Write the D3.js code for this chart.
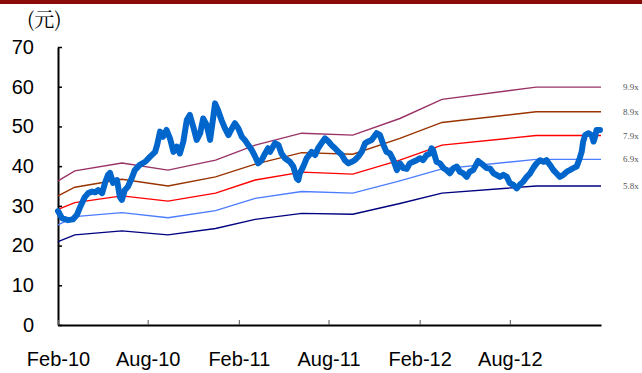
<!DOCTYPE html>
<html>
<head>
<meta charset="utf-8">
<script src="https://cdn.jsdelivr.net/npm/d3@7"></script>
<style>
  body { margin: 0; background: #fff; }
  svg { display: block; }
</style>
</head>
<body>
<svg id="chart" width="642" height="373"></svg>
<script>
// stock price (yuan)
var priceDates = ["2010-02-01","2010-02-09","2010-02-21","2010-03-03","2010-03-11","2010-03-17","2010-03-27","2010-04-03","2010-04-11","2010-04-17",
  "2010-04-23","2010-05-01","2010-05-07","2010-05-13","2010-05-17","2010-05-23","2010-05-31","2010-06-06","2010-06-10","2010-06-16",
  "2010-06-22","2010-06-30","2010-07-06","2010-07-16","2010-07-27","2010-08-06","2010-08-16","2010-08-20","2010-08-26","2010-09-01",
  "2010-09-08","2010-09-15","2010-09-22","2010-09-29","2010-10-05","2010-10-12","2010-10-19","2010-10-25","2010-11-01","2010-11-08",
  "2010-11-15","2010-11-21","2010-11-28","2010-12-05","2010-12-11","2010-12-15","2010-12-21","2010-12-28","2011-01-04","2011-01-11",
  "2011-01-18","2011-01-24","2011-01-31","2011-02-07","2011-02-13","2011-02-20","2011-02-27","2011-03-06","2011-03-12","2011-03-19",
  "2011-03-26","2011-04-01","2011-04-05","2011-04-15","2011-04-22","2011-04-28","2011-05-05","2011-05-15","2011-05-22","2011-05-29",
  "2011-06-01","2011-06-04","2011-06-11","2011-06-18","2011-06-28","2011-07-05","2011-07-11","2011-07-18","2011-07-25","2011-08-01",
  "2011-08-07","2011-08-14","2011-08-21","2011-08-28","2011-09-03","2011-09-10","2011-09-17","2011-09-23","2011-09-30","2011-10-07",
  "2011-10-14","2011-10-20","2011-10-27","2011-11-06","2011-11-13","2011-11-20","2011-11-26","2011-12-03","2011-12-10","2011-12-17",
  "2011-12-23","2011-12-30","2012-01-06","2012-01-12","2012-01-19","2012-01-26","2012-02-02","2012-02-08","2012-02-15","2012-02-22",
  "2012-02-25","2012-02-28","2012-03-06","2012-03-13","2012-03-20","2012-03-26","2012-04-02","2012-04-09","2012-04-16","2012-04-22",
  "2012-04-29","2012-05-06","2012-05-12","2012-05-19","2012-05-29","2012-06-08","2012-06-15","2012-06-22","2012-06-29","2012-07-05",
  "2012-07-12","2012-07-19","2012-07-26","2012-08-01","2012-08-08","2012-08-15","2012-08-21","2012-08-28","2012-09-04","2012-09-11",
  "2012-09-17","2012-09-24","2012-10-01","2012-10-08","2012-10-14","2012-10-21","2012-10-28","2012-11-03","2012-11-10","2012-11-17",
  "2012-11-24","2012-11-30","2012-12-07","2012-12-14","2012-12-20","2012-12-24","2012-12-27","2012-12-31","2013-01-07","2013-01-13",
  "2013-01-17","2013-01-20","2013-01-23","2013-01-30"];
var priceValues = [28.7,26.9,26.4,26.6,27.7,29.5,32.2,33.2,33.6,33.4,
  34.0,33.2,35.8,37.8,38.3,35.8,36.5,32.2,31.5,34.0,
  34.8,37.0,39.0,40.3,41.1,42.4,43.6,45.3,48.7,47.4,
  49.1,47.0,43.6,44.9,43.2,46.2,51.6,52.9,49.9,46.6,
  48.3,52.0,50.4,46.6,52.0,55.8,54.1,51.6,49.5,47.8,
  49.5,50.8,49.5,47.4,46.6,45.3,44.1,42.4,40.7,41.5,
  43.2,44.5,43.6,45.8,45.3,43.2,42.0,41.1,39.9,36.9,
  36.5,38.2,39.9,42.0,43.6,42.8,44.5,45.8,47.0,46.2,
  45.3,44.5,43.6,42.8,41.5,40.7,41.1,41.5,42.4,43.6,
  45.8,46.2,46.6,48.3,47.8,45.3,43.6,43.2,41.5,39.0,
  40.7,39.5,39.3,40.7,41.1,41.5,42.0,41.5,42.8,43.2,
  44.5,44.1,41.1,40.7,39.5,39.0,38.2,39.5,39.9,38.6,
  38.2,37.3,38.6,39.0,41.3,40.3,39.5,39.4,38.2,37.8,
  37.3,37.8,37.3,35.7,35.3,34.4,35.3,36.1,37.3,38.2,
  39.5,40.7,41.5,41.1,41.5,40.3,39.0,38.2,37.3,37.8,
  38.6,39.0,39.5,39.9,42.0,43.6,46.2,47.8,48.3,47.8,
  46.2,47.4,49.1,49.1];

// PE band lines
var bandDates = ["2010-02-01","2010-03-07","2010-06-10","2010-09-11","2010-12-16","2011-03-06",
  "2011-06-08","2011-09-19","2011-12-23","2012-03-17","2012-09-23","2013-02-01"];
var bandLabels = ["9.9x","8.9x","7.9x","6.9x","5.8x"];
var band99 = [36.3,38.8,40.8,39.0,41.5,45.3,48.3,47.8,52.0,56.8,59.9,59.9];
var band89 = [32.5,34.7,36.7,35.0,37.3,40.5,43.4,43.0,47.0,51.0,53.7,53.7];
var band79 = [29.1,30.8,32.5,31.2,33.2,36.5,38.5,38.0,41.5,45.3,47.7,47.7];
var band69 = [25.2,27.3,28.3,27.0,28.8,31.9,33.6,33.2,36.3,39.3,41.7,41.7];
var band58 = [21.0,22.7,23.7,22.7,24.3,26.6,28.1,27.9,30.6,33.2,35.0,35.0];

var yTicks = [0,10,20,30,40,50,60,70];
var xTicks = ["2010-02-01","2010-08-01","2011-02-01","2011-08-01","2012-02-01","2012-08-01"];

var parse = d3.timeParse("%Y-%m-%d");
var svg = d3.select("#chart");

var x = d3.scaleTime()
    .domain([parse("2010-02-01"), parse("2013-02-01")])
    .range([58, 601]);
var y = d3.scaleLinear().domain([0, 70]).range([325, 47]);

// dark red rule at the top
svg.append("rect").attr("x", 0).attr("y", 0).attr("width", 642).attr("height", 4)
    .attr("fill", "#8b0a0a");

svg.append("text")
    .attr("x", 27).attr("y", 27)
    .attr("font-family", "'Noto Serif CJK SC', 'Noto Sans CJK SC', serif")
    .attr("font-size", 20)
    .attr("fill", "#000")
    .text("(元)");

// axes
var yAxis = d3.axisLeft(y).tickValues(yTicks).tickSize(-4).tickPadding(24).tickSizeOuter(0);
var gy = svg.append("g").attr("transform", "translate(58,0)").call(yAxis);
gy.select(".domain").attr("stroke", "#000").attr("stroke-width", 2);
gy.selectAll(".tick line").attr("stroke", "#000").attr("stroke-width", 1.5);
gy.selectAll("text").attr("font-family", "'Liberation Sans', Arial, sans-serif")
    .attr("font-size", 20).attr("fill", "#000");

var xAxis = d3.axisBottom(x).tickValues(xTicks.map(parse)).tickSize(-5)
    .tickFormat(d3.timeFormat("%b-%y")).tickSizeOuter(0).tickPadding(27);
var gx = svg.append("g").attr("transform", "translate(0,325)").call(xAxis);
gx.select(".domain").attr("stroke", "#000").attr("stroke-width", 2);
gx.selectAll(".tick line").attr("stroke", "#555").attr("stroke-width", 1);
gx.selectAll("text").attr("font-family", "'Liberation Sans', Arial, sans-serif")
    .attr("font-size", 20).attr("fill", "#000");

// bands
var bands = [
  {label: bandLabels[0], vals: band99, color: "#993366"},
  {label: bandLabels[1], vals: band89, color: "#993300"},
  {label: bandLabels[2], vals: band79, color: "#ff0000"},
  {label: bandLabels[3], vals: band69, color: "#4d7dff"},
  {label: bandLabels[4], vals: band58, color: "#000080"}
];

var line = d3.line()
    .x(function(d){ return x(d.date); })
    .y(function(d){ return y(d.v); });

bands.forEach(function(b){
    var pts = bandDates.map(function(s, i){ return {date: parse(s), v: b.vals[i]}; });
    svg.append("path").datum(pts)
        .attr("d", line)
        .attr("fill", "none")
        .attr("stroke", b.color)
        .attr("stroke-width", 1.4);
    svg.append("text")
        .attr("x", 623)
        .attr("y", y(b.vals[b.vals.length - 1]) + 3)
        .attr("font-family", "'Liberation Serif', 'DejaVu Serif', serif")
        .attr("font-size", 9)
        .attr("fill", "#555")
        .text(b.label);
});

// price
var price = priceDates.map(function(s, i){ return {date: parse(s), v: priceValues[i]}; });
svg.append("path").datum(price)
    .attr("d", line)
    .attr("fill", "none")
    .attr("stroke", "#0066cc")
    .attr("stroke-width", 6)
    .attr("stroke-linejoin", "round")
    .attr("stroke-linecap", "round");
</script>
</body>
</html>
